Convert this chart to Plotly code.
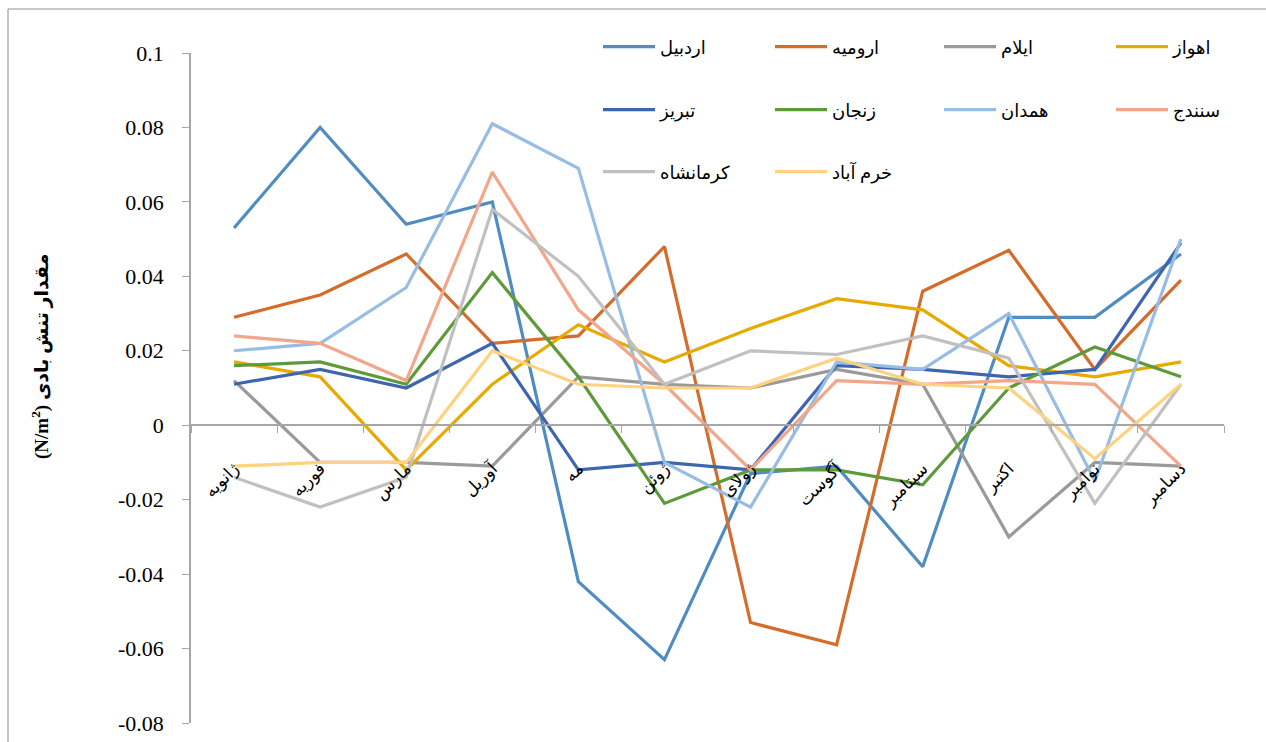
import plotly.graph_objects as go

months = ["ژانویه", "فوریه", "مارس", "آوریل", "مه", "ژوئن", "ژولای",
          "آگوست", "سپتامبر", "اکتبر", "نوامبر", "دسامبر"]

ardabil    = [0.053, 0.080, 0.054, 0.060, -0.042, -0.063, -0.013, -0.011, -0.038, 0.029, 0.029, 0.046]
urmia      = [0.029, 0.035, 0.046, 0.022, 0.024, 0.048, -0.053, -0.059, 0.036, 0.047, 0.015, 0.039]
ilam       = [0.012, -0.010, -0.010, -0.011, 0.013, 0.011, 0.010, 0.015, 0.011, -0.030, -0.010, -0.011]
ahvaz      = [0.017, 0.013, -0.012, 0.011, 0.027, 0.017, 0.026, 0.034, 0.031, 0.016, 0.013, 0.017]
tabriz     = [0.011, 0.015, 0.010, 0.022, -0.012, -0.010, -0.012, 0.016, 0.015, 0.013, 0.015, 0.049]
zanjan     = [0.016, 0.017, 0.011, 0.041, 0.013, -0.021, -0.012, -0.012, -0.016, 0.010, 0.021, 0.013]
hamedan    = [0.020, 0.022, 0.037, 0.081, 0.069, -0.010, -0.022, 0.017, 0.015, 0.030, -0.015, 0.050]
sanandaj   = [0.024, 0.022, 0.012, 0.068, 0.031, 0.011, -0.012, 0.012, 0.011, 0.012, 0.011, -0.011]
kermanshah = [-0.014, -0.022, -0.014, 0.058, 0.040, 0.011, 0.020, 0.019, 0.024, 0.018, -0.021, 0.011]
khorramabad = [-0.011, -0.010, -0.010, 0.020, 0.011, 0.010, 0.010, 0.018, 0.011, 0.010, -0.009, 0.011]

series_names = ["اردبیل", "ارومیه", "ایلام", "اهواز", "تبریز", "زنجان",
                "همدان", "سنندج", "کرمانشاه", "خرم آباد"]
series_values = [ardabil, urmia, ilam, ahvaz, tabriz, zanjan,
                 hamedan, sanandaj, kermanshah, khorramabad]
colors = ["#4F8CC2", "#D46C2B", "#9A9A9A", "#E6AA00", "#3E66B0", "#5F9A3A",
          "#98BDE3", "#F2A68A", "#C0C0C0", "#FFD27F"]

y_tick_vals = [0.1, 0.08, 0.06, 0.04, 0.02, 0, -0.02, -0.04, -0.06, -0.08]
y_tick_text = ["0.1", "0.08", "0.06", "0.04", "0.02", "0", "-0.02", "-0.04", "-0.06", "-0.08"]

FONT = "'Liberation Serif', 'Times New Roman', 'DejaVu Sans', serif"

W, H = 1266, 742
L, R, T, B = 191, 42, 53, 19
pw = W - L - R
ph = H - T - B

def px_x(p):
    return (p - L) / pw

def px_y(p):
    return (H - B - p) / ph

# legend grid: 4 columns, 3 rows (pixel anchors)
col_left = [598, 770, 939, 1111]
row_mid = [47, 110, 172]

fig = go.Figure()
layout_legends = {}
for i, (name, vals, col) in enumerate(zip(series_names, series_values, colors)):
    lid = "legend" if i == 0 else f"legend{i + 1}"
    fig.add_trace(go.Scatter(x=months, y=vals, mode="lines", name=name,
                             line=dict(color=col, width=3.2), legend=lid))
    layout_legends[lid] = dict(
        x=px_x(col_left[i % 4]), y=px_y(row_mid[i // 4]),
        xanchor="left", yanchor="middle", orientation="v",
        font=dict(family=FONT, size=18, color="black"),
        bgcolor="rgba(0,0,0,0)", itemwidth=52, borderwidth=0)

fig.update_layout(
    width=W, height=H,
    margin=dict(l=L, r=R, t=T, b=B, autoexpand=False),
    paper_bgcolor="white", plot_bgcolor="white",
    font=dict(family=FONT, color="black"),
    showlegend=True,
    xaxis=dict(type="category", anchor="free", position=0.08 / 0.18,
               showline=True, linecolor="#A6A6A6", linewidth=1.5,
               ticks="outside", ticklen=7, tickcolor="#A6A6A6", tickson="boundaries",
               tickangle=-45, ticklabelstandoff=26, showgrid=False, zeroline=False,
               tickfont=dict(family=FONT, size=17, color="black"),
               range=[-0.5, 11.5]),
    yaxis=dict(range=[-0.08, 0.1], showline=True, linecolor="#A6A6A6", linewidth=1.5,
               ticks="outside", ticklen=7, tickcolor="#A6A6A6",
               tickvals=y_tick_vals, ticktext=y_tick_text,
               showgrid=False, zeroline=False, ticklabelstandoff=14,
               tickfont=dict(family=FONT, size=22, color="black")),
    shapes=[dict(type="rect", xref="paper", yref="paper",
                 x0=px_x(8), y0=px_y(9), x1=1.3, y1=-0.3,
                 line=dict(color="#8C8C8C", width=1), fillcolor="rgba(0,0,0,0)",
                 layer="below")],
    annotations=[dict(text="<b>(N/m<sup>2</sup>) مقدار تنش بادی</b>",
                      xref="paper", yref="paper", x=px_x(40), y=px_y(357),
                      xanchor="center", yanchor="middle", textangle=-90,
                      showarrow=False,
                      font=dict(family=FONT, size=19, color="black"))],
    **layout_legends,
)

fig.write_html("out.html", config={"displayModeBar": False},
               post_script="document.body.style.margin='0';document.body.style.overflow='hidden';")
